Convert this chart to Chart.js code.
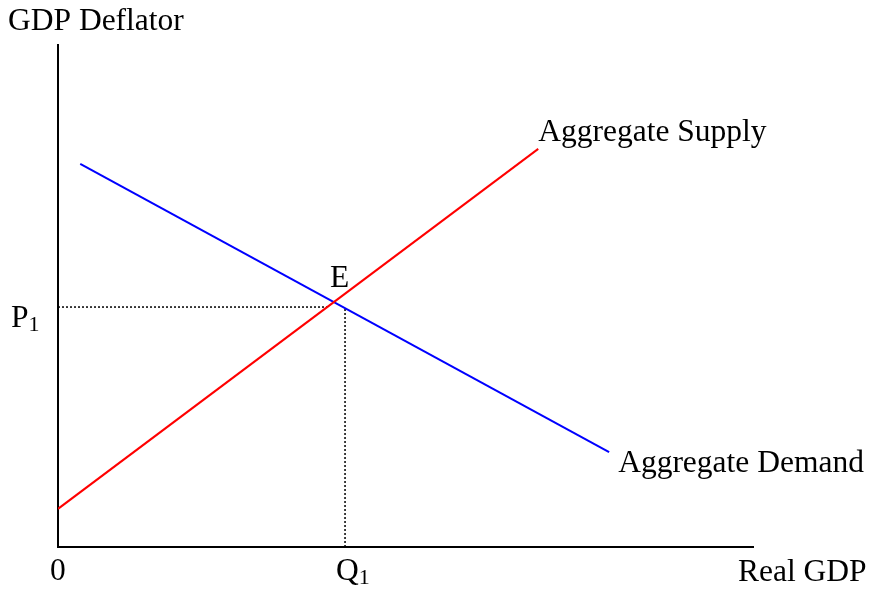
<!DOCTYPE html>
<html>
<head>
    <title>Aggregate Supply and Demand</title>
    <style>
        body { margin: 0; background: #fff; }
        canvas { display: block; }
    </style>
</head>
<body>
    <canvas id="adas" width="872" height="589"></canvas>
    <script src="https://cdn.jsdelivr.net/npm/chart.js"></script>
    <script>
        // values, axes run 0..100 in both directions
        const supplyX = [0, 69.1];
        const supplyY = [7.6, 79.3];
        const demandX = [3.2, 79.3];
        const demandY = [76.3, 18.9];
        const priceP1 = 47.8;
        const outputQ1 = 41.3;
        const supplyAtP1 = 38.8;   // where the P1 guide meets the supply curve
        const demandAtQ1 = 47.5;   // where the Q1 guide meets the demand curve

        const FONT = '31.5px "Liberation Serif", "Times New Roman", serif';
        const SUBFONT = '22px "Liberation Serif", "Times New Roman", serif';

        function pts(xs, ys) {
            return xs.map((x, i) => ({ x: x, y: ys[i] }));
        }

        function drawSub(ctx, main, sub, x, y) {
            ctx.font = FONT;
            ctx.fillText(main, x, y);
            let w = ctx.measureText(main).width;
            ctx.font = SUBFONT;
            ctx.fillText(sub, x + w, y + 4);
        }

        const labelsPlugin = {
            id: 'labels',
            afterDraw(chart) {
                const ctx = chart.ctx;
                const xs = chart.scales.x, ys = chart.scales.y;
                ctx.save();
                ctx.fillStyle = '#000';
                ctx.textBaseline = 'alphabetic';
                ctx.textAlign = 'left';
                ctx.font = FONT;

                ctx.fillText('GDP Deflator', 8, 30);
                ctx.fillText('Aggregate Supply', xs.getPixelForValue(supplyX[1]), ys.getPixelForValue(supplyY[1]) - 8);
                ctx.fillText('Aggregate Demand', xs.getPixelForValue(demandX[1]) + 9, ys.getPixelForValue(demandY[1]) + 20);
                ctx.fillText('E', 330, ys.getPixelForValue(priceP1) - 20);
                ctx.fillText('0', xs.left - 8, xs.bottom + 33);
                ctx.fillText('Real GDP', 738, xs.bottom + 34);

                drawSub(ctx, 'P', '1', 11, ys.getPixelForValue(priceP1) + 20);
                drawSub(ctx, 'Q', '1', xs.getPixelForValue(outputQ1) - 9, xs.bottom + 33);
                ctx.restore();
            }
        };

        const hidden = {
            grid: { display: false, drawTicks: false },
            ticks: { display: false },
            border: { display: true, color: '#000', width: 2 }
        };

        new Chart(document.getElementById('adas'), {
            type: 'scatter',
            data: {
                datasets: [
                    {
                        label: 'Aggregate Supply',
                        data: pts(supplyX, supplyY),
                        showLine: true,
                        borderColor: '#ff0000',
                        borderWidth: 2,
                        pointRadius: 0
                    },
                    {
                        label: 'Aggregate Demand',
                        data: pts(demandX, demandY),
                        showLine: true,
                        borderColor: '#0000ff',
                        borderWidth: 2,
                        pointRadius: 0
                    },
                    {
                        label: 'P1',
                        data: pts([0, supplyAtP1], [priceP1, priceP1]),
                        showLine: true,
                        borderColor: '#000',
                        borderWidth: 1.5,
                        borderDash: [2, 2],
                        pointRadius: 0
                    },
                    {
                        label: 'Q1',
                        data: pts([outputQ1, outputQ1], [0, demandAtQ1]),
                        showLine: true,
                        borderColor: '#000',
                        borderWidth: 1.5,
                        borderDash: [2, 2],
                        pointRadius: 0
                    }
                ]
            },
            options: {
                responsive: false,
                animation: false,
                layout: { padding: { left: 58, right: 119, top: 45, bottom: 42 } },
                scales: {
                    x: Object.assign({ type: 'linear', min: 0, max: 100 }, hidden),
                    y: Object.assign({ type: 'linear', min: 0, max: 100 }, hidden)
                },
                plugins: {
                    legend: { display: false },
                    tooltip: { enabled: false }
                }
            },
            plugins: [labelsPlugin]
        });
    </script>
</body>
</html>
